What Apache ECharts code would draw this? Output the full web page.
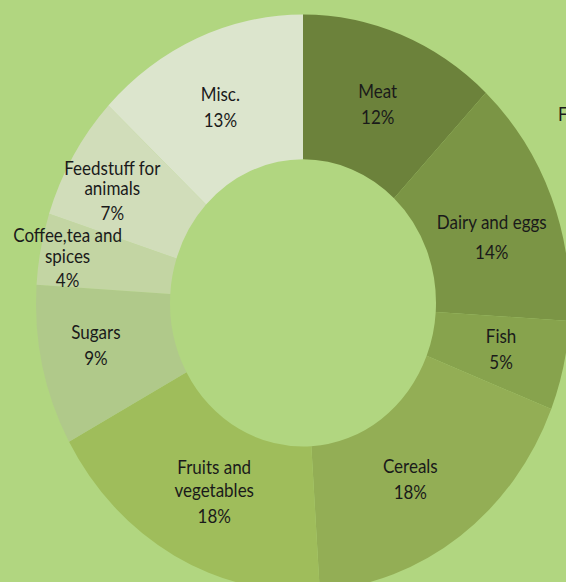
<!DOCTYPE html>
<html>
<head>
<meta charset="utf-8">
<script src="https://cdn.jsdelivr.net/npm/echarts@6/dist/echarts.min.js"></script>
<style>
  html, body { margin: 0; padding: 0; background: #b1d680; overflow: hidden; }
  #wrap { width: 566px; height: 582px; overflow: hidden; position: relative; }
  #chart { width: 566px; height: 539px; transform: scaleY(1.08); transform-origin: 0 0; }
</style>
</head>
<body>
<div id="wrap"><div id="chart"></div></div>
<script>
// ---- data ----
const categories = ['Meat', 'Dairy and eggs', 'Fish', 'Cereals', 'Fruits and\nvegetables', 'Sugars', 'Coffee,tea and\nspices', 'Feedstuff for\nanimals', 'Misc.'];
const shares = [12, 14, 5, 18, 18, 9, 4, 7, 13];
const colors = ['#6c823b', '#7b9545', '#87a34d', '#93ae55', '#9fbd5b', '#b0c98a', '#c3d5a3', '#d1ddba', '#dce5cd'];

// label tweaks (layout only)
const labelOffsets = {
  'Meat': [0, 6],
  'Misc.': [-2, 6],
  'Dairy and eggs': [0, 17],
  'Cereals': [-12, 0],
  'Fruits and\nvegetables': [9, -2],
  'Sugars': [-9, -4],
  'Coffee,tea and\nspices': [-36, -2],
  'Feedstuff for\nanimals': [-16, 1]
};
const tightLabels = ['Coffee,tea and\nspices', 'Feedstuff for\nanimals'];

const chart = echarts.init(document.getElementById('chart'), null, { renderer: 'svg' });

const data = categories.map((name, i) => {
  const item = { name: name, value: shares[i], itemStyle: { color: colors[i] } };
  const lbl = {};
  if (labelOffsets[name]) lbl.offset = labelOffsets[name];
  item.label = lbl;
  return item;
});

chart.setOption({
  backgroundColor: '#b1d680',
  animation: false,
  graphic: [{
    type: 'text', left: 558, top: 97,
    style: { text: 'F', fill: '#1a1a1a', font: '17px Lato' }
  }],
  series: [{
    type: 'pie',
    center: [303, 280.5],
    radius: [133, 267],
    startAngle: 90,
    clockwise: true,
    avoidLabelOverlap: false,
    itemStyle: { borderWidth: 0 },
    emphasis: { disabled: true },
    label: {
      show: true,
      position: 'inside',
      color: '#1a1a1a',
      fontFamily: 'Lato',
      fontSize: 17,
      formatter: function (p) {
        const tight = tightLabels.indexOf(p.name) >= 0;
        const st = tight ? 't' : 'n';
        const lines = p.name.split('\n').map(s => '{' + st + '|' + s + '}');
        return lines.join('\n') + '\n{' + (p.name === 'Dairy and eggs' ? 'q' : 'p') + '|' + p.value + '%}';
      },
      rich: {
        n: { fontFamily: 'Lato', fontSize: 17, color: '#1a1a1a', lineHeight: 22 },
        t: { fontFamily: 'Lato', fontSize: 17, color: '#1a1a1a', lineHeight: 19 },
        p: { fontFamily: 'Lato', fontSize: 17, color: '#1a1a1a', lineHeight: 26 },
        q: { fontFamily: 'Lato', fontSize: 17, color: '#1a1a1a', lineHeight: 34 }
      }
    },
    labelLine: { show: false },
    data: data
  }]
});
</script>
</body>
</html>
